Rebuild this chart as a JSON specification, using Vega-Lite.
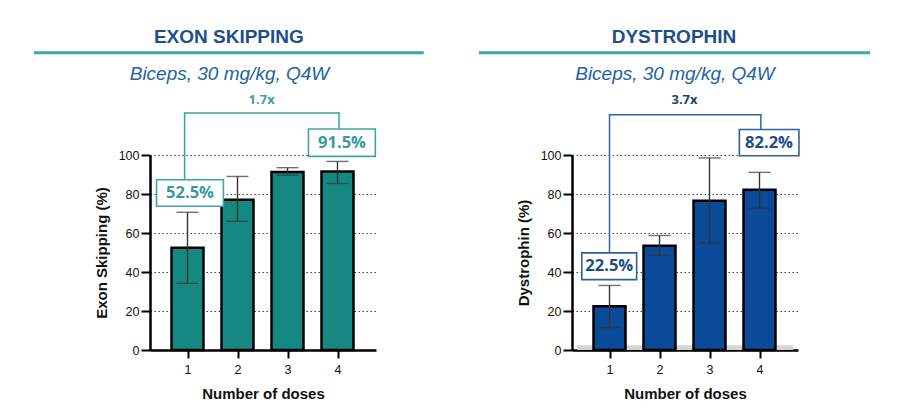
{
  "$schema": "https://vega.github.io/schema/vega-lite/v6.json",
  "padding": {"left": 32, "top": 27, "right": 5, "bottom": 5},
  "bounds": "flush",
  "spacing": 196,
  "background": "white",
  "config": {
    "view": {"stroke": null},
    "axis": {
      "labelFont": "Liberation Sans", "titleFont": "Liberation Sans",
      "labelColor": "#111", "titleColor": "#111",
      "labelFontSize": 12.5, "titleFontSize": 15, "titleFontWeight": "bold",
      "domainColor": "#000", "domainWidth": 2.5,
      "tickColor": "#000", "tickWidth": 2, "tickSize": 9,
      "labelOverlap": false, "labelBound": false, "labelFlush": false, "tickCount": 10
    },
    "axisY": {"grid": true, "gridColor": "#444", "gridDash": [1.5, 2.5], "gridWidth": 1, "labelPadding": 2, "titlePadding": 9},
    "axisX": {"grid": false, "labelPadding": 5, "titlePadding": 11, "tickSize": 8}
  },
  "hconcat": [
    {
      "width": 226, "height": 195,
      "data": {"values": [
        {"dose": 1, "pct": 52.5, "lo": 34.2, "hi": 70.6},
        {"dose": 2, "pct": 77.0, "lo": 66.0, "hi": 89.0},
        {"dose": 3, "pct": 91.3, "lo": 89.7, "hi": 93.5},
        {"dose": 4, "pct": 91.5, "lo": 85.4, "hi": 96.7}
      ]},
      "layer": [
        {
          "mark": {"type": "bar", "width": 32, "fill": "#168882", "stroke": "#000", "strokeWidth": 2.5},
          "encoding": {
            "x": {"field": "dose", "type": "quantitative", "scale": {"domain": [0.35, 4.67], "nice": false, "zero": false},
                  "axis": {"values": [1, 2, 3, 4], "format": "d", "title": "Number of doses"}},
            "y": {"field": "pct", "type": "quantitative", "scale": {"domain": [0, 100], "nice": false},
                  "axis": {"values": [0, 20, 40, 60, 80, 100], "tickCount": 10, "title": "Exon Skipping (%)"}}
          }
        },
        {
          "mark": {"type": "errorbar", "ticks": {"size": 22}, "thickness": 1.4, "color": "#333"},
          "encoding": {
            "x": {"field": "dose", "type": "quantitative", "title": "Number of doses"},
            "y": {"field": "lo", "type": "quantitative", "title": "Exon Skipping (%)"},
            "y2": {"field": "hi"}
          }
        },
        {
          "data": {"values": [{}]},
          "layer": [
            {"mark": {"type": "rule", "stroke": "#3aa7b3", "strokeWidth": 3},
             "encoding": {"x": {"datum": -2.071}, "x2": {"datum": 5.725}, "y": {"datum": 152.5}}},
            {"mark": {"type": "text", "text": "EXON SKIPPING", "font": "Liberation Sans", "fontWeight": "bold", "fontSize": 19, "color": "#1d4f8c", "baseline": "middle"},
             "encoding": {"x": {"datum": 1.827}, "y": {"datum": 160.6}}},
            {"mark": {"type": "text", "text": "Biceps, 30 mg/kg, Q4W", "font": "Liberation Sans", "fontStyle": "italic", "fontSize": 19, "color": "#2462a3", "baseline": "middle"},
             "encoding": {"x": {"datum": 1.84}, "y": {"datum": 141.6}}},
            {"mark": {"type": "text", "text": "1.7x", "font": "Open Sans", "fontWeight": "bold", "fontSize": 13, "color": "#3f9e9e", "baseline": "middle"},
             "encoding": {"x": {"datum": 2.483}, "y": {"datum": 128.2}}},
            {"mark": {"type": "rule", "stroke": "#3aa3a3", "strokeWidth": 1.5, "strokeCap": "square"},
             "encoding": {"x": {"datum": 0.942}, "y": {"datum": 87.3}, "y2": {"datum": 121.5}}},
            {"mark": {"type": "rule", "stroke": "#3aa3a3", "strokeWidth": 1.5, "strokeCap": "square"},
             "encoding": {"x": {"datum": 0.942}, "x2": {"datum": 4.03}, "y": {"datum": 121.5}}},
            {"mark": {"type": "rule", "stroke": "#3aa3a3", "strokeWidth": 1.5, "strokeCap": "square"},
             "encoding": {"x": {"datum": 4.03}, "y": {"datum": 113.3}, "y2": {"datum": 121.5}}},
            {"mark": {"type": "rect", "fill": "white", "stroke": "#3fa6a8", "strokeWidth": 1.6},
             "encoding": {"x": {"datum": 0.381}, "x2": {"datum": 1.718}, "y": {"datum": 73.7}, "y2": {"datum": 87.3}}},
            {"mark": {"type": "text", "text": "52.5%", "font": "Open Sans", "fontWeight": "bold", "fontSize": 16.5, "color": "#3a9a9b", "baseline": "middle"},
             "encoding": {"x": {"datum": 1.05}, "y": {"datum": 80.5}}},
            {"mark": {"type": "rect", "fill": "white", "stroke": "#3fa6a8", "strokeWidth": 1.6},
             "encoding": {"x": {"datum": 3.419}, "x2": {"datum": 4.757}, "y": {"datum": 99.3}, "y2": {"datum": 113.3}}},
            {"mark": {"type": "text", "text": "91.5%", "font": "Open Sans", "fontWeight": "bold", "fontSize": 16.5, "color": "#3a9a9b", "baseline": "middle"},
             "encoding": {"x": {"datum": 4.09}, "y": {"datum": 106.3}}}
          ]
        }
      ]
    },
    {
      "width": 226, "height": 195,
      "data": {"values": [
        {"dose": 1, "pct": 22.5, "lo": 11.5, "hi": 33.1},
        {"dose": 2, "pct": 53.5, "lo": 48.5, "hi": 58.7},
        {"dose": 3, "pct": 76.5, "lo": 55.0, "hi": 98.5},
        {"dose": 4, "pct": 82.2, "lo": 72.7, "hi": 91.1}
      ]},
      "layer": [
        {
          "data": {"values": [{}]},
          "mark": {"type": "rect", "fill": "#d4d4d4"},
          "encoding": {
            "x": {"datum": 0.35, "scale": {"domain": [0.35, 4.67], "nice": false, "zero": false}, "axis": {"values": [1, 2, 3, 4], "format": "d", "title": "Number of doses"}},
            "x2": {"datum": 4.67},
            "y": {"datum": 0, "scale": {"domain": [0, 100], "nice": false}, "axis": {"values": [0, 20, 40, 60, 80, 100], "tickCount": 10, "title": "Dystrophin (%)"}},
            "y2": {"datum": 2.4}
          }
        },
        {
          "mark": {"type": "bar", "width": 32, "fill": "#0b4a99", "stroke": "#000", "strokeWidth": 2.5},
          "encoding": {
            "x": {"field": "dose", "type": "quantitative", "title": "Number of doses"},
            "y": {"field": "pct", "type": "quantitative", "title": "Dystrophin (%)"}
          }
        },
        {
          "mark": {"type": "errorbar", "ticks": {"size": 22}, "thickness": 1.4, "color": "#333"},
          "encoding": {
            "x": {"field": "dose", "type": "quantitative", "title": "Number of doses"},
            "y": {"field": "lo", "type": "quantitative", "title": "Dystrophin (%)"},
            "y2": {"field": "hi"}
          }
        },
        {
          "data": {"values": [{}]},
          "layer": [
            {"mark": {"type": "rule", "stroke": "#3aa7b3", "strokeWidth": 3},
             "encoding": {"x": {"datum": -1.61}, "x2": {"datum": 6.21}, "y": {"datum": 152.5}}},
            {"mark": {"type": "text", "text": "DYSTROPHIN", "font": "Liberation Sans", "fontWeight": "bold", "fontSize": 19, "color": "#1d4f8c", "baseline": "middle"},
             "encoding": {"x": {"datum": 2.29}, "y": {"datum": 160.6}}},
            {"mark": {"type": "text", "text": "Biceps, 30 mg/kg, Q4W", "font": "Liberation Sans", "fontStyle": "italic", "fontSize": 19, "color": "#2462a3", "baseline": "middle"},
             "encoding": {"x": {"datum": 2.31}, "y": {"datum": 141.6}}},
            {"mark": {"type": "text", "text": "3.7x", "font": "Open Sans", "fontWeight": "bold", "fontSize": 13, "color": "#1e3f6e", "baseline": "middle"},
             "encoding": {"x": {"datum": 2.5}, "y": {"datum": 128.4}}},
            {"mark": {"type": "rule", "stroke": "#2a68a8", "strokeWidth": 1.5, "strokeCap": "square"},
             "encoding": {"x": {"datum": 1.0}, "y": {"datum": 49.8}, "y2": {"datum": 120.6}}},
            {"mark": {"type": "rule", "stroke": "#2a68a8", "strokeWidth": 1.5, "strokeCap": "square"},
             "encoding": {"x": {"datum": 1.0}, "x2": {"datum": 4.027}, "y": {"datum": 120.6}}},
            {"mark": {"type": "rule", "stroke": "#2a68a8", "strokeWidth": 1.5, "strokeCap": "square"},
             "encoding": {"x": {"datum": 4.027}, "y": {"datum": 113.1}, "y2": {"datum": 120.6}}},
            {"mark": {"type": "rect", "fill": "white", "stroke": "#2a63a0", "strokeWidth": 1.6},
             "encoding": {"x": {"datum": 0.446}, "x2": {"datum": 1.543}, "y": {"datum": 36.1}, "y2": {"datum": 49.8}}},
            {"mark": {"type": "text", "text": "22.5%", "font": "Open Sans", "fontWeight": "bold", "fontSize": 16.5, "color": "#1b4d8a", "baseline": "middle"},
             "encoding": {"x": {"datum": 0.995}, "y": {"datum": 43.0}}},
            {"mark": {"type": "rect", "fill": "white", "stroke": "#2a63a0", "strokeWidth": 1.6},
             "encoding": {"x": {"datum": 3.597}, "x2": {"datum": 4.789}, "y": {"datum": 99.6}, "y2": {"datum": 113.1}}},
            {"mark": {"type": "text", "text": "82.2%", "font": "Open Sans", "fontWeight": "bold", "fontSize": 16.5, "color": "#1b4d8a", "baseline": "middle"},
             "encoding": {"x": {"datum": 4.19}, "y": {"datum": 106.4}}}
          ]
        }
      ]
    }
  ]
}
